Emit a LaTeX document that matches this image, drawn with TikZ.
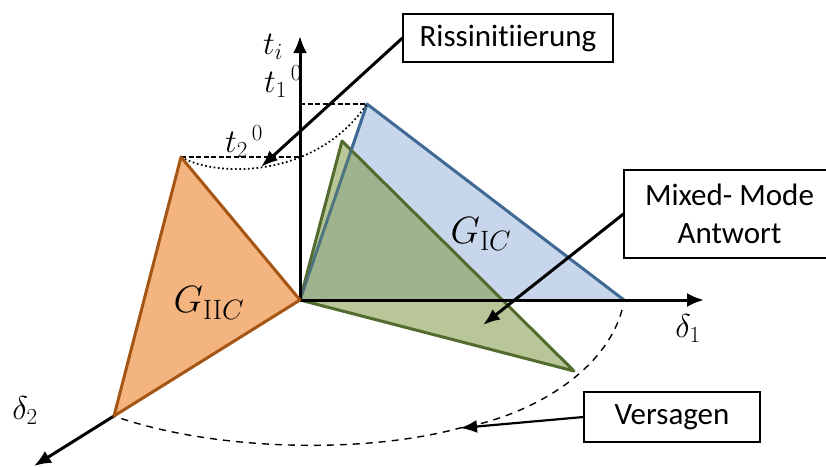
\RequirePackage{fix-cm}
\documentclass[tikz,border=0pt]{standalone}
\usepackage[no-math]{fontspec}
\setmainfont[Ligatures=NoCommon]{Carlito}
\usetikzlibrary{arrows.meta}
\definecolor{bluefill}{RGB}{199,214,234}
\definecolor{blueline}{RGB}{65,105,150}
\definecolor{greenfill}{RGB}{127,153,68}
\definecolor{greenline}{RGB}{84,107,48}
\definecolor{orfill}{RGB}{243,180,127}
\definecolor{orline}{RGB}{165,85,20}
\DeclareMathSizes{33}{33}{23}{17}
\DeclareMathSizes{38}{38}{28}{20}
\tikzset{
 labelbox/.style={draw=black,fill=white,line width=1.1pt,align=center,font=\fontsize{31}{38}\selectfont,inner sep=0pt},
 axisline/.style={line width=3pt,-{Latex[length=17pt,width=14pt]}},
 callout/.style={line width=3pt,-{Latex[length=17pt,width=13pt]}},
 guide/.style={line width=1.2pt,dash pattern=on 5pt off 2.5pt},
 sym/.style={inner sep=0pt,font=\fontsize{33}{36}\selectfont},
 gsym/.style={inner sep=0pt,font=\fontsize{38}{44}\selectfont},
}
\begin{document}
\begin{tikzpicture}[x=1pt,y=-1pt]
\useasboundingbox (0,0) rectangle (826,466);
\coordinate (O) at (300,300);
\coordinate (B1) at (367,104);
\coordinate (B2) at (624,300);
\coordinate (G1) at (342,141);
\coordinate (G2) at (574,371);
\coordinate (R1) at (181,157);
\coordinate (R2) at (114,416);
\coordinate (tTop) at (300,36);
\coordinate (dOne) at (704,300);
\coordinate (dTwo) at (34,466);
\coordinate (tOne) at (300,104);
\coordinate (tTwo) at (300,157);
\coordinate (aR) at (261,167);
\coordinate (aM) at (483,325);
\coordinate (aV) at (460,428);
\coordinate (cStart) at (622,310);
% triangles
\fill[bluefill] (O)--(B1)--(B2)--cycle;
\draw[blueline,line width=3pt,line join=round] (O)--(B1)--(B2);
\fill[greenfill,fill opacity=.55] (O)--(G1)--(G2)--cycle;
\draw[greenline,line width=3pt,line join=round] (O)--(G1)--(G2)--cycle;
\draw[blueline,opacity=.6,line width=2.6pt] (O)--(B1);
% guides
\draw[guide] (tOne)--(B1);
\draw[guide] (R1)--(tTwo);
\draw[line width=1.7pt,dash pattern=on 1.7pt off 2.6pt] (R1) .. controls (215,177) and (315,180) .. (B1);
\draw[line width=1.4pt,dash pattern=on 7pt off 6pt] (cStart) .. controls (604,375) and (525,417) .. (aV) .. controls (360,455) and (210,450) .. (R2);
% axes
\draw[axisline] (O)--(tTop);
\draw[axisline] (O)--(dOne);
\draw[axisline] (R2)--(dTwo);
% orange on top of the axis origin
\fill[orfill] (O)--(R1)--(R2)--cycle;
\draw[orline,line width=3pt,line join=round] (O)--(R1)--(R2)--cycle;
% boxes
\node[labelbox,minimum width=210pt,minimum height=48pt] (riss) at (508,38) {Rissinitiierung};
\node[labelbox,minimum width=211pt,minimum height=88pt] (mixed) at (729.5,214) {Mixed- Mode\\Antwort};
\node[labelbox,minimum width=176pt,minimum height=50pt] (vers) at (672,417) {Versagen};
\draw[callout] (riss.west)--(aR);
\draw[callout] (mixed.west)--(aM);
\draw[callout,line width=2.2pt] (vers.west)--(aV);
% symbols
\node[sym] (ti) at (273,47) {$t_i$};
\node[sym] (t1) at (283,82) {$t_1{}^{\,0}$};
\node[sym] (t2) at (244,142) {$t_2{}^{\,0}$};
\node[gsym] (gii) at (209,303) {$G_{\mathrm{II}C}$};
\node[gsym] (gi) at (481,234) {$G_{\mathrm{I}C}$};
\node[sym] (d1) at (688,329) {$\delta_1$};
\node[sym] (d2) at (25,411) {$\delta_2$};
\end{tikzpicture}
\end{document}
